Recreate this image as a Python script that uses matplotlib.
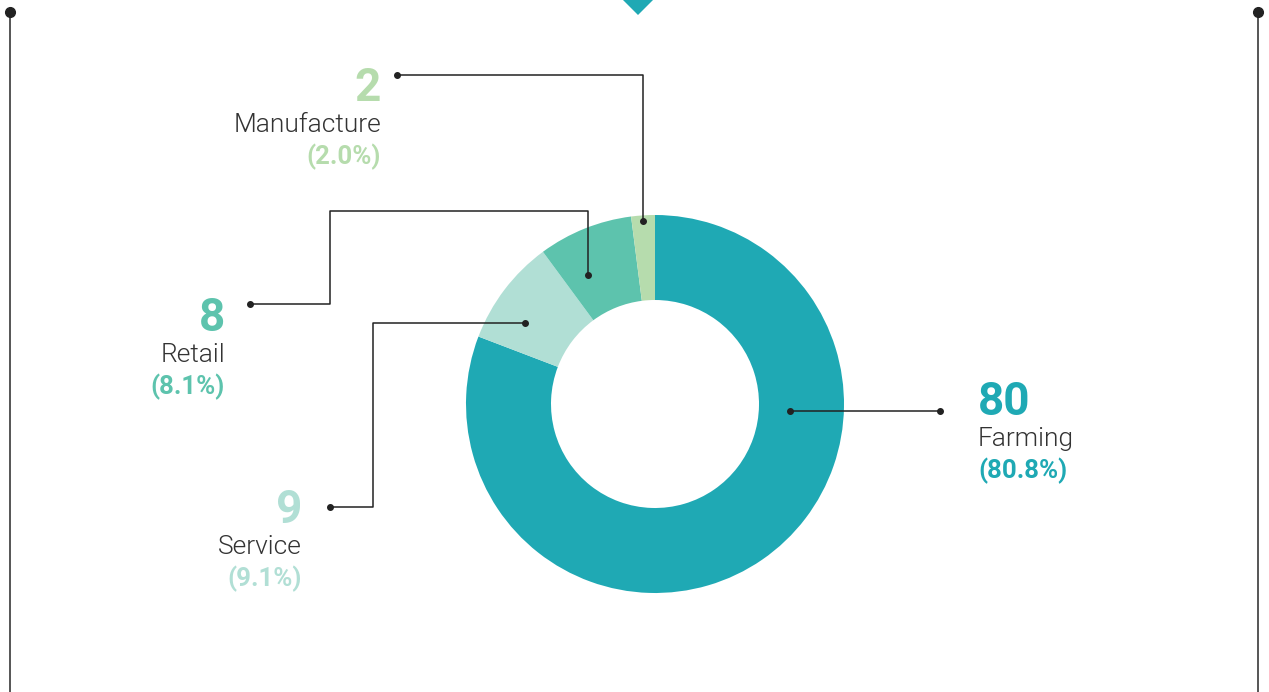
import matplotlib
matplotlib.use("Agg")
import matplotlib.pyplot as plt
from matplotlib.patches import Polygon

categories = ["Farming", "Service", "Retail", "Manufacture"]
values = [80, 9, 8, 2]
colors = ["#1fa9b4", "#b1dfd5", "#5dc3ad", "#b6dcad"]

W, H = 1269, 692
fig = plt.figure(figsize=(W / 100, H / 100), dpi=100)
ax = fig.add_axes([0, 0, 1, 1])
ax.set_xlim(0, W)
ax.set_ylim(0, H)
ax.set_aspect("equal")
ax.axis("off")


def Y(y):
    return H - y


# donut
cx, cy, R = 655, 404, 189
ax.pie(values, colors=colors, startangle=90, counterclock=False,
       center=(cx, Y(cy)), radius=R, frame=True,
       wedgeprops=dict(width=R - 104, linewidth=0))
ax.set_xlim(0, W)
ax.set_ylim(0, H)
ax.axis("off")

# top triangle
ax.add_patch(Polygon([(621, Y(-2)), (655, Y(-2)), (638, Y(15))],
                     closed=True, color="#1fa9b4", lw=0))

# side border lines
for x in (10, 1258):
    ax.plot([x, x], [Y(12), Y(700)], color="#555555", lw=1.4, solid_capstyle="butt")
    ax.plot([x], [Y(12)], "o", color="#222222", ms=7)

lc = "#222222"
leaders = {
    "Manufacture": [(643, 221), (643, 75), (397, 75)],
    "Retail": [(588, 275), (588, 211), (330, 211), (330, 304), (250, 304)],
    "Service": [(525, 323), (373, 323), (373, 507), (330, 507)],
    "Farming": [(790, 411), (940, 411)],
}
for name, pts in leaders.items():
    xs = [p[0] for p in pts]
    ys = [Y(p[1]) for p in pts]
    ax.plot(xs, ys, color=lc, lw=1.1)
    ax.plot([xs[0], xs[-1]], [ys[0], ys[-1]], "o", color=lc, ms=4)

total = sum(values)
label_pos = {
    "Manufacture": (381, 88, "right"),
    "Retail": (225, 318, "right"),
    "Service": (302, 510, "right"),
    "Farming": (978, 402, "left"),
}
fam = ["Roboto", "DejaVu Sans"]
for name, v, c in zip(categories, values, colors):
    x, y, ha = label_pos[name]
    ax.text(x, Y(y), f"{v}", color=c, fontsize=33, fontweight="bold",
            ha=ha, va="center", family=fam)
    ax.text(x, Y(y + 37), name, color="#333333", fontsize=19, fontweight=300,
            ha=ha, va="center", family=fam)
    ax.text(x, Y(y + 69), f"({v / total * 100:.1f}%)", color=c, fontsize=18.5,
            fontweight="bold", ha=ha, va="center", family=fam)

fig.savefig("out.png", dpi=100, facecolor="white")
